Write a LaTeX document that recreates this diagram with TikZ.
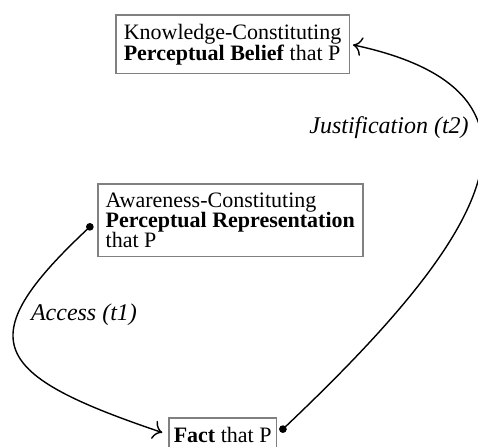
\documentclass[tikz,border=0pt]{standalone}
\usepackage{fontspec}
\setmainfont{Liberation Serif}
\usetikzlibrary{arrows,arrows.meta}

\begin{document}
\begin{tikzpicture}[x=0.5pt,y=0.5pt,line width=0.7pt,
	box/.style={draw=gray,line width=0.75pt,align=left,anchor=north west,inner xsep=4pt,inner ysep=4.5pt},
	boxfont/.style={font={\fontsize{11}{#1}\selectfont\lineskiplimit=-10pt}},
	lbl/.style={font=\fontsize{12}{14}\selectfont\itshape},
	link/.style={{Circle[length=3.8pt]}-{To[length=4.5pt]}}]
	\useasboundingbox (0,0) rectangle (478,446);

	\node[box,boxfont=10.5] (belief) at (115,432) {Knowledge-Constituting\\\textbf{Perceptual Belief} that P};
	\node[box,boxfont=10]   (rep)    at (97,263)  {Awareness-Constituting\\\textbf{Perceptual Representation}\\that P};
	\node[box,boxfont=10,inner xsep=2.5pt] (fact) at (168,29) {\textbf{Fact} that P};

	\node[lbl] (access) at (84,131)  {Access (t1)};
	\node[lbl] (justif) at (389,318) {Justification (t2)};

	\draw[link,shorten <=3pt,shorten >=3pt] (rep.west) .. controls (-32,105) and (-8,71) .. (fact.west);
	\draw[link,shorten <=2pt,shorten >=1.5pt] (fact.east) .. controls (459,184) and (592,350) .. (belief.east);
\end{tikzpicture}
\end{document}
